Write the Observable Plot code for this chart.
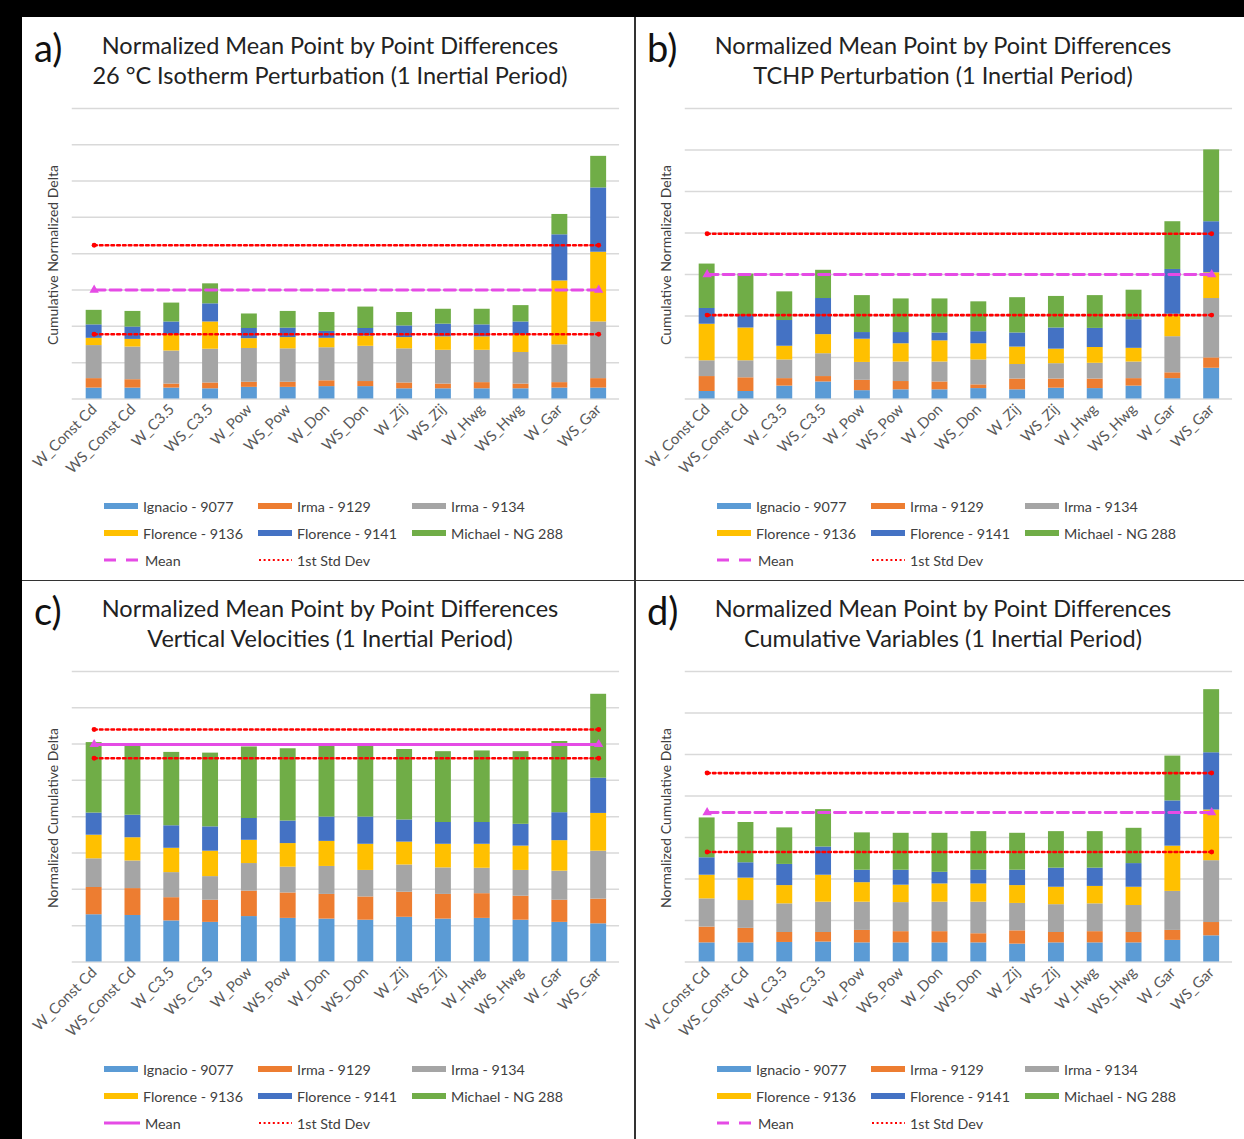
<!DOCTYPE html>
<html><head><meta charset="utf-8">
<script src="https://cdn.jsdelivr.net/npm/d3@7"></script>
<script src="https://cdn.jsdelivr.net/npm/@observablehq/plot@0.6"></script>
<style>
body{margin:0;background:#fff;font-family:Lato,"Open Sans",sans-serif;}
#page{position:relative;width:1244px;height:1139px;overflow:hidden;background:#fff}
.band{position:absolute;background:#000}
.vline{position:absolute;background:#333}
.panel{position:absolute;width:609px;height:558px;}
.tag{position:absolute;left:12px;top:6px;font-size:38px;color:#111;line-height:46px}
.title{position:absolute;left:0;top:12px;width:616px;text-align:center;font-size:23.5px;color:#222;line-height:30px}
.ylab{position:absolute;left:30px;top:237px;transform:translate(-50%,-50%) rotate(-90deg);font-size:14px;color:#404040;white-space:nowrap}
.chart{position:absolute;left:0;top:70px}
.legend{position:absolute;left:0;top:476px;width:609px;height:80px;font-size:14.3px;color:#404040}
.li{position:absolute;display:flex;align-items:center;white-space:nowrap;height:20px}
.li svg{margin-right:5px}
</style></head>
<body><div id="page"></div>
<script>
const categories = ["W_Const Cd","WS_Const Cd","W_C3.5","WS_C3.5","W_Pow","WS_Pow","W_Don","WS_Don","W_Zij","WS_Zij","W_Hwg","WS_Hwg","W_Gar","WS_Gar"];
const seriesNames = ["Ignacio - 9077","Irma - 9129","Irma - 9134","Florence - 9136","Florence - 9141","Michael - NG 288"];
const seriesColors = ["#5B9BD5","#ED7D31","#A5A5A5","#FFC000","#4472C4","#70AD47"];

// a) 26 °C Isotherm Perturbation
const isoIgnacio  = [0.30,0.30,0.30,0.28,0.32,0.32,0.34,0.34,0.28,0.28,0.28,0.28,0.30,0.30];
const isoIrma9129 = [0.26,0.23,0.11,0.16,0.14,0.14,0.16,0.14,0.16,0.13,0.17,0.13,0.15,0.26];
const isoIrma9134 = [0.91,0.90,0.91,0.93,0.93,0.92,0.91,0.97,0.94,0.93,0.89,0.87,1.04,1.56];
const isoFlor9136 = [0.20,0.21,0.46,0.75,0.27,0.31,0.26,0.28,0.31,0.37,0.37,0.48,1.76,1.92];
const isoFlor9141 = [0.37,0.34,0.34,0.50,0.28,0.26,0.19,0.21,0.32,0.35,0.33,0.36,1.27,1.77];
const isoMichael  = [0.40,0.43,0.52,0.55,0.40,0.46,0.52,0.59,0.37,0.41,0.43,0.45,0.56,0.87];
const isoMean = 3.00, isoStd = [1.78, 4.23];

// b) TCHP Perturbation
const tchpIgnacio  = [0.18,0.18,0.31,0.41,0.20,0.22,0.22,0.25,0.22,0.26,0.25,0.31,0.49,0.74];
const tchpIrma9129 = [0.36,0.33,0.18,0.13,0.25,0.20,0.19,0.09,0.26,0.22,0.23,0.18,0.14,0.25];
const tchpIrma9134 = [0.38,0.41,0.45,0.55,0.43,0.47,0.48,0.60,0.35,0.37,0.38,0.40,0.87,1.43];
const tchpFlor9136 = [0.88,0.79,0.33,0.46,0.56,0.44,0.51,0.39,0.42,0.35,0.38,0.33,0.54,0.62];
const tchpFlor9141 = [0.38,0.30,0.62,0.87,0.16,0.27,0.19,0.29,0.34,0.51,0.46,0.69,1.08,1.23];
const tchpMichael  = [1.07,1.00,0.69,0.68,0.89,0.81,0.82,0.72,0.85,0.76,0.79,0.71,1.15,1.73];
const tchpMean = 3.00, tchpStd = [2.02, 3.98];

// c) Vertical Velocities
const vvIgnacio  = [1.30,1.28,1.13,1.09,1.25,1.20,1.18,1.15,1.23,1.18,1.20,1.15,1.09,1.05];
const vvIrma9129 = [0.75,0.74,0.64,0.61,0.70,0.70,0.68,0.64,0.69,0.68,0.68,0.66,0.61,0.68];
const vvIrma9134 = [0.79,0.76,0.69,0.65,0.76,0.71,0.77,0.73,0.75,0.73,0.70,0.71,0.80,1.32];
const vvFlor9136 = [0.65,0.64,0.67,0.70,0.64,0.65,0.69,0.72,0.63,0.65,0.66,0.67,0.84,1.04];
const vvFlor9141 = [0.61,0.62,0.62,0.67,0.60,0.62,0.67,0.75,0.61,0.60,0.60,0.60,0.77,0.97];
const vvMichael  = [1.94,1.94,2.02,2.03,1.97,1.99,1.98,1.99,1.94,1.95,1.97,2.00,1.96,2.31];
const vvMean = 5.99, vvStd = [5.61, 6.40];

// d) Cumulative Variables
const cumIgnacio  = [0.46,0.46,0.47,0.48,0.46,0.46,0.46,0.46,0.43,0.46,0.46,0.46,0.52,0.63];
const cumIrma9129 = [0.38,0.35,0.24,0.23,0.30,0.27,0.27,0.22,0.32,0.25,0.27,0.25,0.24,0.32];
const cumIrma9134 = [0.68,0.67,0.69,0.73,0.68,0.70,0.71,0.76,0.66,0.67,0.67,0.65,0.94,1.49];
const cumFlor9136 = [0.57,0.54,0.44,0.65,0.47,0.42,0.44,0.44,0.43,0.42,0.42,0.44,1.09,1.22];
const cumFlor9141 = [0.42,0.37,0.51,0.68,0.30,0.36,0.28,0.33,0.37,0.46,0.44,0.57,1.09,1.38];
const cumMichael  = [0.96,0.97,0.88,0.90,0.90,0.89,0.94,0.93,0.89,0.88,0.88,0.85,1.08,1.52];
const cumMean = 3.60, cumStd = [2.65, 4.55];

const panels = [
  {tag:"a)", left:22, top:18, t1:"Normalized Mean Point by Point Differences", t2:"26 °C Isotherm Perturbation (1 Inertial Period)",
   ylab:"Cumulative Normalized Delta", yMax:8, series:[isoIgnacio,isoIrma9129,isoIrma9134,isoFlor9136,isoFlor9141,isoMichael], mean:isoMean, std:isoStd, solid:false},
  {tag:"b)", left:635, top:18, t1:"Normalized Mean Point by Point Differences", t2:"TCHP Perturbation (1 Inertial Period)",
   ylab:"Cumulative Normalized Delta", yMax:7, series:[tchpIgnacio,tchpIrma9129,tchpIrma9134,tchpFlor9136,tchpFlor9141,tchpMichael], mean:tchpMean, std:tchpStd, solid:false},
  {tag:"c)", left:22, top:581, t1:"Normalized Mean Point by Point Differences", t2:"Vertical Velocities (1 Inertial Period)",
   ylab:"Normalized Cumulative Delta", yMax:8, series:[vvIgnacio,vvIrma9129,vvIrma9134,vvFlor9136,vvFlor9141,vvMichael], mean:vvMean, std:vvStd, solid:true},
  {tag:"d)", left:635, top:581, t1:"Normalized Mean Point by Point Differences", t2:"Cumulative Variables (1 Inertial Period)",
   ylab:"Normalized Cumulative Delta", yMax:7, series:[cumIgnacio,cumIrma9129,cumIrma9134,cumFlor9136,cumFlor9141,cumMichael], mean:cumMean, std:cumStd, solid:false}
];

const MEAN_COLOR = "#E54BE5", STD_COLOR = "#FF0000";

function makeChart(p) {
  const rows = [];
  seriesNames.forEach((s, i) => p.series[i].forEach((v, j) => rows.push({cat: categories[j], series: s, value: v})));
  const ends = [categories[0], categories[categories.length - 1]];
  const meanLine = ends.map(c => ({cat: c, y: p.mean}));
  const stdLines = p.std.flatMap((v, k) => ends.map(c => ({cat: c, y: v, k})));
  return Plot.plot({
    width: 612, height: 407, marginTop: 20, marginBottom: 95, marginLeft: 50, marginRight: 12,
    x: {domain: categories, paddingInner: 0.59, paddingOuter: 0.295, label: null},
    y: {domain: [0, p.yMax], axis: null},
    color: {domain: seriesNames, range: seriesColors},
    style: {fontFamily: "Lato, 'Open Sans', sans-serif", fontSize: "15px", color: "#595959", background: "transparent", overflow: "visible"},
    marks: [
      Plot.gridY(d3.range(0, p.yMax + 1), {stroke: "#d9d9d9", strokeOpacity: 1, strokeWidth: 1.5}),
      Plot.barY(rows, {x: "cat", y: "value", fill: "series", order: seriesNames}),
      Plot.axisX({tickRotate: -45, tickSize: 0, tickPadding: 8, fontSize: 15, label: null}),
      Plot.line(stdLines, {x: "cat", y: "y", z: "k", stroke: STD_COLOR, strokeWidth: 2.6, strokeDasharray: "2.6,3.2"}),
      Plot.dot(stdLines, {x: "cat", y: "y", r: 2.5, fill: STD_COLOR}),
      Plot.line(meanLine, {x: "cat", y: "y", stroke: MEAN_COLOR, strokeWidth: 3, strokeDasharray: p.solid ? null : "11,5"}),
      Plot.dot(meanLine, {x: "cat", y: "y", r: 3.5, fill: MEAN_COLOR, symbol: "triangle"})
    ]
  });
}

function swatchRect(color) {
  return `<svg width="34" height="8"><rect x="0" y="1" width="34" height="6" fill="${color}"/></svg>`;
}
function swatchMean(solid) {
  return solid
    ? `<svg width="36" height="8"><line x1="0" y1="4" x2="36" y2="4" stroke="${MEAN_COLOR}" stroke-width="3"/></svg>`
    : `<svg width="36" height="8"><line x1="0" y1="4" x2="36" y2="4" stroke="${MEAN_COLOR}" stroke-width="3" stroke-dasharray="12,10"/></svg>`;
}
function swatchStd() {
  return `<svg width="34" height="8"><line x1="1" y1="4" x2="34" y2="4" stroke="${STD_COLOR}" stroke-width="2" stroke-dasharray="2,2.6"/></svg>`;
}

const page = document.getElementById("page");
page.insertAdjacentHTML("beforeend", `
  <div class="band" style="left:0;top:0;width:1244px;height:17px"></div>
  <div class="band" style="left:0;top:0;width:22px;height:1139px"></div>
  <div class="vline" style="left:634px;top:17px;width:1.5px;height:1122px"></div>
  <div class="vline" style="left:22px;top:579.5px;width:1222px;height:1.5px"></div>
`);

const colX = [82, 236, 390];
const rowY = [2, 29, 56];
panels.forEach(p => {
  const div = document.createElement("div");
  div.className = "panel";
  div.style.left = p.left + "px";
  div.style.top = p.top + "px";
  div.innerHTML = `<div class="tag">${p.tag}</div>
    <div class="title">${p.t1}<br>${p.t2}</div>
    <div class="ylab">${p.ylab}</div>`;
  const chart = document.createElement("div");
  chart.className = "chart";
  chart.appendChild(makeChart(p));
  div.appendChild(chart);
  const leg = document.createElement("div");
  leg.className = "legend";
  let html = "";
  seriesNames.forEach((s, i) => {
    const c = i % 3, r = Math.floor(i / 3);
    html += `<div class="li" style="left:${colX[c]}px;top:${rowY[r]}px">${swatchRect(seriesColors[i])}${s}</div>`;
  });
  html += `<div class="li" style="left:${colX[0]}px;top:${rowY[2]}px">${swatchMean(p.solid)}Mean</div>`;
  html += `<div class="li" style="left:${colX[1]}px;top:${rowY[2]}px">${swatchStd()}1st Std Dev</div>`;
  leg.innerHTML = html;
  div.appendChild(leg);
  page.appendChild(div);
});
</script>
</body></html>
